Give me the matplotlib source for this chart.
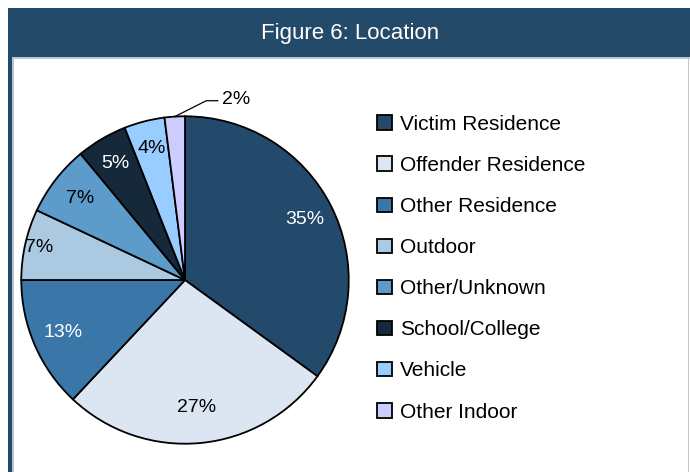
import numpy as np
import matplotlib.pyplot as plt
from matplotlib.patches import Rectangle

# ---- data ----
categories = ["Victim Residence", "Offender Residence", "Other Residence",
              "Outdoor", "Other/Unknown", "School/College", "Vehicle",
              "Other Indoor"]
shares = [35, 27, 13, 7, 7, 5, 4, 2]
pct_labels = ["35%", "27%", "13%", "7%", "7%", "5%", "4%", "2%"]

colors = ["#234a6b", "#dce6f2", "#3a77a8", "#abcae2", "#5c9bca",
          "#16293b", "#99ccff", "#ccccff"]
text_colors = ["white", "black", "white", "black", "black", "white",
               "black", "black"]
label_dist = [0.82, 0.78, 0.81, 0.91, 0.81, 0.83, 0.83, None]

FONT = ["Liberation Sans", "DejaVu Sans"]
FRAME = "#244a6a"

fig = plt.figure(figsize=(6.9, 4.72), dpi=100)
W, H = 690, 472


def box(x0, y0, x1, y1, color):
    # pixel box (top-left origin) -> figure fraction
    fig.patches.append(Rectangle((x0 / W, 1 - y1 / H), (x1 - x0) / W,
                                 (y1 - y0) / H, transform=fig.transFigure,
                                 facecolor=color, edgecolor="none", zorder=0))


# frame + title bar
box(8, 8, 690, 57, FRAME)
box(8, 57, 12, 472, FRAME)
box(12, 57, 13.5, 472, "#b9c6d4")
box(13, 57, 690, 58.5, "#b9c6d4")
box(687.5, 57, 689, 472, "#c8c8c8")
fig.text(350 / W, 1 - 34 / H, "Figure 6: Location", color="white",
         fontsize=16, family=FONT, ha="center", va="center")

# ---- pie ----
cx, cy, r = 185, 280, 167
ax = fig.add_axes([(cx - r) / W, 1 - (cy + r) / H, 2 * r / W, 2 * r / H])
wedges, _ = ax.pie(shares, colors=colors, startangle=90, counterclock=False,
                   wedgeprops=dict(edgecolor="black", linewidth=1.3))
ax.set_xlim(-1.02, 1.02)
ax.set_ylim(-1.02, 1.02)
ax.set_aspect("equal")
ax.axis("off")

for w, lab, tc, d in zip(wedges, pct_labels, text_colors, label_dist):
    ang = np.deg2rad((w.theta1 + w.theta2) / 2)
    if d is not None:
        ax.text(d * np.cos(ang), d * np.sin(ang), lab, color=tc,
                fontsize=14, family=FONT, ha="center", va="center")
    else:
        ex, ey = np.cos(ang), np.sin(ang)
        ax.plot([ex, 0.13, 0.2], [ey, 1.095, 1.095], color="black",
                lw=0.9, clip_on=False)
        ax.text(0.225, 1.105, lab, color=tc, fontsize=14, family=FONT,
                ha="left", va="center", clip_on=False)

# ---- legend ----
fig.legend(wedges, categories, loc="upper left",
           bbox_to_anchor=(377 / W, 1 - 115 / H), frameon=False,
           prop=dict(family=FONT, size=15),
           handlelength=0.7, handleheight=0.7, handletextpad=0.4,
           labelspacing=1.06, borderpad=0, borderaxespad=0)

fig.savefig("out.png", dpi=100)
